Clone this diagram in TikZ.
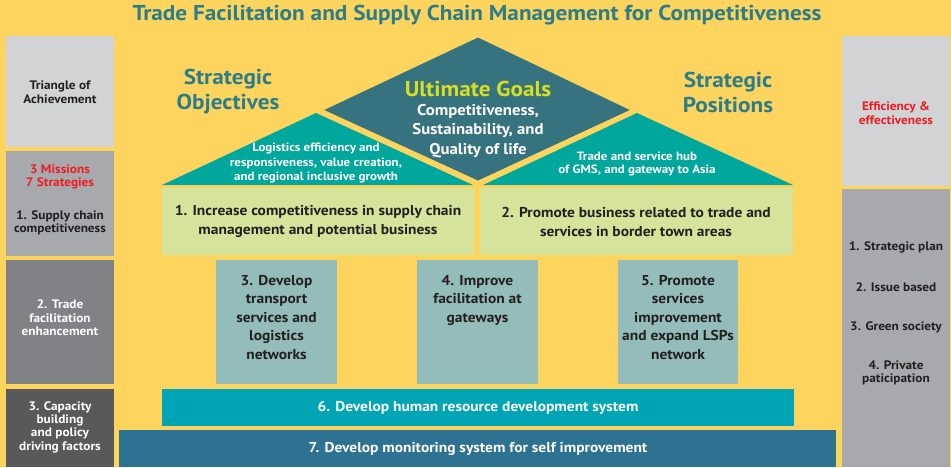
\documentclass[tikz,border=0pt]{standalone}
\usepackage{fontspec}
\setmainfont[FakeStretch=1.08]{PT Sans}
\definecolor{bgY}{RGB}{253,213,94}
\definecolor{titleT}{RGB}{44,124,138}
\definecolor{gA}{RGB}{209,211,212}
\definecolor{gB}{RGB}{167,169,172}
\definecolor{gC}{RGB}{128,130,133}
\definecolor{gD}{RGB}{88,89,91}
\definecolor{redT}{RGB}{237,28,36}
\definecolor{darkT}{RGB}{35,31,32}
\definecolor{diam}{RGB}{55,115,126}
\definecolor{tri}{RGB}{0,167,157}
\definecolor{ult}{RGB}{215,223,35}
\definecolor{lgreen}{RGB}{213,228,154}
\definecolor{bgray}{RGB}{147,188,187}
\definecolor{boxsix}{RGB}{0,165,181}
\definecolor{boxseven}{RGB}{45,114,144}
\tikzset{
  txt/.style={align=center,inner sep=0pt,font=\bfseries\fontsize{12.3}{13.5}\selectfont,text=darkT},
  wtxt/.style={txt,text=white},
  rtxt/.style={txt,text=redT},
  big/.style={align=center,inner sep=0pt,font=\bfseries\fontsize{21.5}{25}\selectfont,text=titleT},
  mid/.style={align=center,inner sep=0pt,font=\bfseries\fontsize{14.3}{19}\selectfont,text=darkT},
}
\begin{document}
\begin{tikzpicture}[x=1pt,y=-1pt]
\useasboundingbox (0,0) rectangle (951,467);
\fill[bgY] (0,0) rectangle (951,467);
% title
\node[big,font=\bfseries\fontsize{21.5}{22}\selectfont] (title) at (477,15) {Trade Facilitation and Supply Chain Management for Competitiveness};
% left column
\fill[gA] (6,36) rectangle (114,147);
\fill[gB] (6,151) rectangle (114,256);
\fill[gC] (6,260) rectangle (114,384);
\fill[gD] (6,389) rectangle (114,467);
\node[txt] (l1) at (60,92) {Triangle of\\Achievement};
\node[rtxt] (l2a) at (60,177) {3 Missions\\7 Strategies};
\node[txt] (l2b) at (60,223) {1. Supply chain\\competitiveness};
\node[wtxt] (l3) at (60,318) {2. Trade\\facilitation\\enhancement};
\node[wtxt,font=\bfseries\fontsize{12.3}{13.3}\selectfont] (l4) at (60,427) {3. Capacity\\building\\and policy\\driving factors};
% right column
\fill[gA] (842,36) rectangle (950,186);
\fill[gB] (842,189) rectangle (950,467);
\node[rtxt] (r1) at (896,113) {Efficiency \&\\effectiveness};
\node[txt] (r2) at (896,247) {1. Strategic plan};
\node[txt] (r3) at (896,287) {2. Issue based};
\node[txt] (r4) at (896,327) {3. Green society};
\node[txt] (r5) at (896,373) {4. Private\\paticipation};
% roof
\fill[tri] (316,113) -- (473,185) -- (162,185) -- cycle;
\fill[tri] (637,113) -- (793,185) -- (483,185) -- cycle;
\filldraw[fill=diam,draw=bgY,line width=2.5pt,line join=miter] (478,36) -- (633,110) -- (478,182) -- (321,110) -- cycle;
\node[big] (so) at (228,92) {Strategic\\Objectives};
\node[big] (sp) at (728,92) {Strategic\\Positions};
\node[big,text=ult] (ug) at (478,89) {Ultimate Goals};
\node[align=center,inner sep=0pt,font=\bfseries\fontsize{15.5}{19.5}\selectfont,text=white] (ugt) at (478,131) {Competitiveness,\\Sustainability, and\\Quality of life};
\node[wtxt,font=\bfseries\fontsize{12}{14.5}\selectfont] (lt) at (316,163) {Logistics efficiency and\\responsiveness, value creation,\\and regional inclusive growth};
\node[wtxt,font=\bfseries\fontsize{12}{13.5}\selectfont] (rt) at (637,164) {Trade and service hub\\of GMS, and gateway to Asia};
% green boxes
\fill[lgreen] (162,188) rectangle (474,255);
\fill[lgreen] (480,188) rectangle (793,255);
\node[mid] (g1) at (318,221.5) {1. Increase competitiveness in supply chain\\management and potential business};
\node[mid] (g2) at (636,221.5) {2. Promote business related to trade and\\services in border town areas};
% blue-gray boxes
\fill[bgray] (216,260) rectangle (337,384);
\fill[bgray] (417,260) rectangle (538,384);
\fill[bgray] (618,260) rectangle (738,384);
\node[mid,font=\bfseries\fontsize{14.3}{18.5}\selectfont,anchor=north] (b3) at (276.5,275) {3. Develop\\transport\\services and\\logistics\\networks};
\node[mid,font=\bfseries\fontsize{14.3}{18.5}\selectfont,anchor=north] (b4) at (477.5,275) {4. Improve\\facilitation at\\gateways};
\node[mid,font=\bfseries\fontsize{14.3}{18.5}\selectfont,anchor=north] (b5) at (678,275) {5. Promote\\services\\improvement\\and expand LSPs\\network};
% bottom bars
\fill[boxsix] (162,389) rectangle (794,426);
\fill[boxseven] (119,430) rectangle (836,467);
\node[mid,text=white] (s6) at (478,407.5) {6. Develop human resource development system};
\node[mid,text=white] (s7) at (478,448.5) {7. Develop monitoring system for self improvement};
\end{tikzpicture}
\end{document}
